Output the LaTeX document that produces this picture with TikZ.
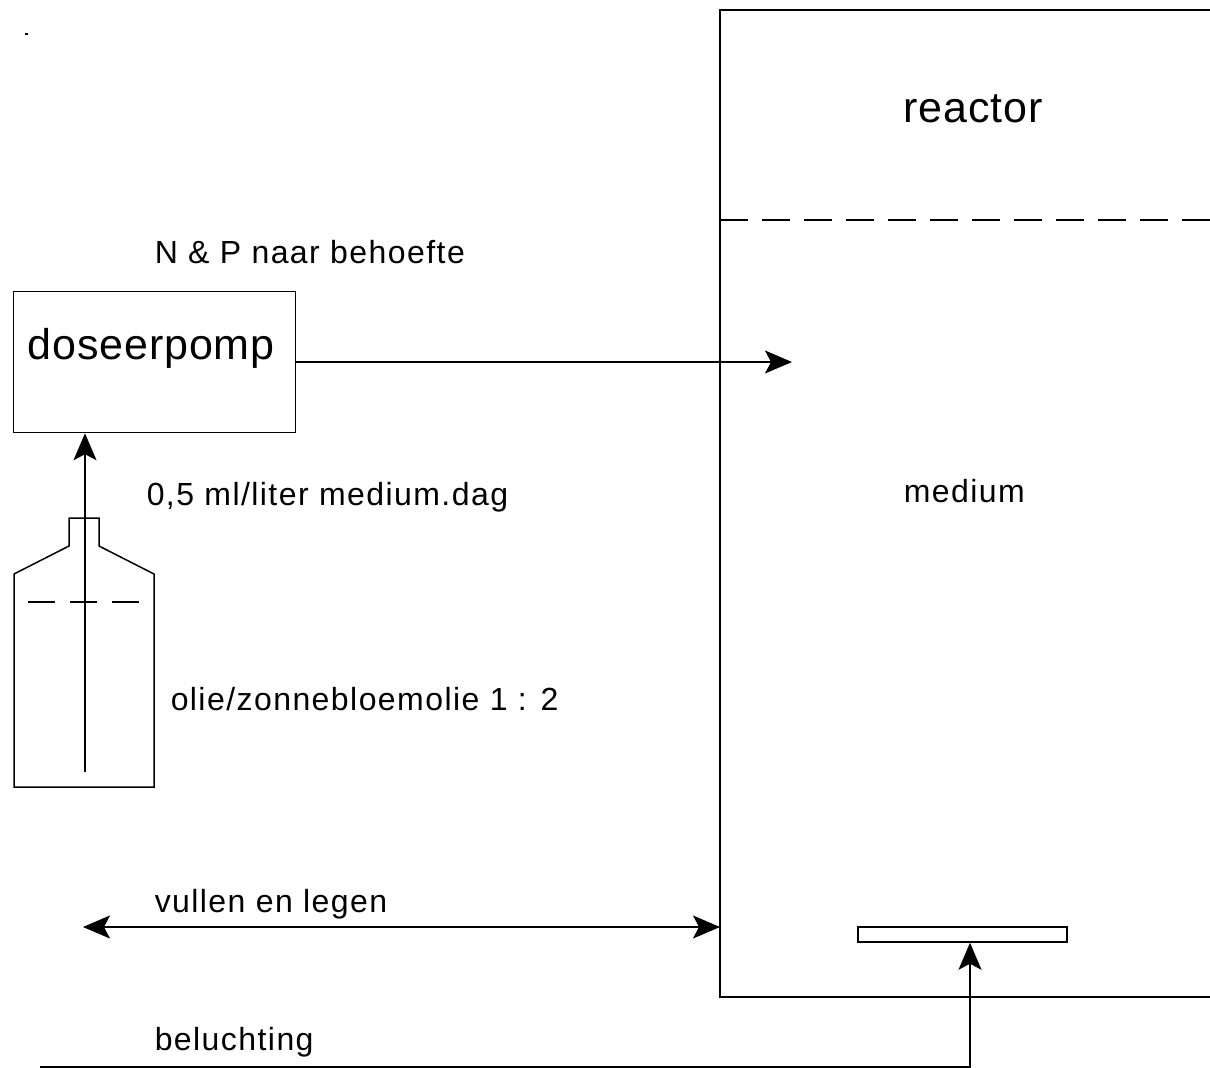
\documentclass[tikz,border=0pt]{standalone}
\usepackage{fontspec}
\setmainfont{Liberation Sans}
\newfontfamily\smallf[LetterSpace=4.5]{Liberation Sans}
\newfontfamily\bigf[LetterSpace=2]{Liberation Sans}
\usetikzlibrary{arrows.meta}
\begin{document}
\begin{tikzpicture}[x=1pt,y=-1pt,
  line width=1.5pt,
  arr/.style={-{Stealth[length=27pt,width=23pt,inset=6pt]}},
  darr/.style={{Stealth[length=27pt,width=23pt,inset=6pt]}-{Stealth[length=27pt,width=23pt,inset=6pt]}},
  lbl/.style={anchor=base west,inner sep=0pt,font=\smallf\fontsize{32}{38}\selectfont},
  biglbl/.style={anchor=base west,inner sep=0pt,font=\bigf\fontsize{43}{51}\selectfont},
  box/.style={draw,rectangle,inner sep=0pt}]
\useasboundingbox (0,0) rectangle (1210,1068);
% stray dot
\fill (25,33) rectangle (28,35);
% reactor
\coordinate (rTR) at (1211,10);
\coordinate (rTL) at (720,10);
\coordinate (rBL) at (720,997);
\coordinate (rBR) at (1211,997);
\draw (rTR) -- (rTL) -- (rBL) -- (rBR);
\coordinate (lvlL) at (720,220);
\coordinate (lvlR) at (1211,220);
\draw[dash pattern=on 28pt off 14pt] (lvlL) -- (lvlR);
\node[biglbl] (reactor) at (903,122) {reactor};
\node[lbl] (medium) at (903,502) {medium};
% dosing pump
\node[box,minimum width=282pt,minimum height=141pt] (pump) at (154.5,362) {};
\node[biglbl] (doslbl) at (27,359) {doseerpomp};
\node[lbl] (np) at (154,263) {N \& P naar behoefte};
\coordinate (inlet) at (792,362);
\draw[arr] (pump.east |- inlet) -- (inlet);
% bottle
\draw (14,787) -- (14,574) -- (69,546) -- (69,518) -- (99,518) -- (99,546) -- (154,574) -- (154,787) -- cycle;
\coordinate (oilL) at (28,602);
\coordinate (oilR) at (143,602);
\draw[dash pattern=on 27pt off 15pt] (oilL) -- (oilR);
\coordinate (tube) at (85,772);
\draw[arr] (tube) -- (tube |- pump.south);
\node[lbl] (rate) at (146,505) {0,5 ml/liter medium.dag};
\node[lbl] (oil) at (170,710) {olie/zonnebloemolie 1 : 2};
% fill and drain
\coordinate (fill) at (83,927);
\draw[darr] (fill) -- (fill -| rBL);
\node[lbl] (vul) at (154,912) {vullen en legen};
% aeration
\node[box,minimum width=209pt,minimum height=15pt] (diff) at (962.5,934.5) {};
\coordinate (air) at (40,1067);
\coordinate (airup) at (970,1067);
\draw[arr] (air) -- (airup) -- (airup |- diff.south);
\node[lbl] (bel) at (154,1050) {beluchting};
\end{tikzpicture}
\end{document}
